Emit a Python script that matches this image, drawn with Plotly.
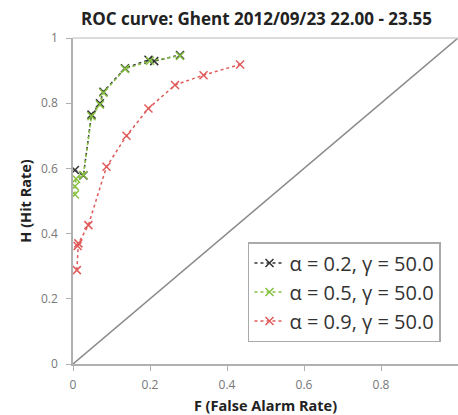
import plotly.graph_objects as go

title = "ROC curve: Ghent 2012/09/23 22.00 - 23.55"
names = ["α = 0.2, γ = 50.0", "α = 0.5, γ = 50.0", "α = 0.9, γ = 50.0"]
colors = ["#333333", "#86c03f", "#e05a5a"]

f_02 = [0.005, 0.027, 0.048, 0.070, 0.079, 0.135, 0.196, 0.211, 0.278]
h_02 = [0.595, 0.578, 0.765, 0.800, 0.835, 0.907, 0.933, 0.929, 0.948]

f_05 = [0.005, 0.005, 0.008, 0.027, 0.048, 0.070, 0.079, 0.135, 0.200, 0.278]
h_05 = [0.520, 0.545, 0.568, 0.580, 0.760, 0.795, 0.832, 0.905, 0.930, 0.945]

f_09 = [0.010, 0.012, 0.014, 0.040, 0.087, 0.139, 0.196, 0.265, 0.339, 0.434]
h_09 = [0.288, 0.362, 0.370, 0.426, 0.605, 0.700, 0.784, 0.856, 0.886, 0.919]

diag = [0, 1]
ticks = [0, 0.2, 0.4, 0.6, 0.8, 1]
tick_text = ["0", "0.2", "0.4", "0.6", "0.8", "1"]

fig = go.Figure()
fig.add_trace(go.Scatter(x=diag, y=diag, mode="lines", line=dict(color="#8a8a8a", width=1.5),
                         showlegend=False, hoverinfo="skip"))
for i, (fx, hy) in enumerate([(f_02, h_02), (f_05, h_05), (f_09, h_09)]):
    fig.add_trace(go.Scatter(
        x=fx, y=hy, mode="lines+markers", name=names[i], legendgroup=f"g{i}",
        line=dict(color=colors[i], width=1.5, dash="dot"),
        marker=dict(symbol="x-thin", size=8, line=dict(color=colors[i], width=1.5), color=colors[i]),
    ))

axis_common = dict(
    range=[0, 1], tickvals=ticks, ticktext=tick_text, showgrid=False, zeroline=False,
    showline=True, linecolor="#b0b0b0", linewidth=1.5, ticks="outside", ticklen=5,
    tickcolor="#b0b0b0", tickfont=dict(family="Open Sans, Liberation Sans, sans-serif", size=12, color="#777777"),
)
fig.update_xaxes(**axis_common, ticklabelstandoff=4,
                 title=dict(text="<b>F (False Alarm Rate)</b>", font=dict(family="Open Sans, sans-serif", size=14.5, color="#222"), standoff=12))
fig.update_yaxes(**axis_common, ticklabelstandoff=6,
                 title=dict(text="<b>H (Hit Rate)</b>", font=dict(family="Open Sans, sans-serif", size=14.5, color="#222"), standoff=6))

fig.add_shape(type="line", xref="paper", yref="paper", x0=0, x1=1, y0=1, y1=1,
              line=dict(color="#d0d0d0", width=1.5))

fig.update_layout(
    width=458, height=415,
    margin=dict(l=73, r=0, t=38, b=51),
    paper_bgcolor="white", plot_bgcolor="white",
    title=dict(text=f"<b>{title}</b>", x=0.56, xanchor="center", y=0.955, yanchor="middle",
               font=dict(family="Open Sans, sans-serif", size=17, color="#222")),
    legend=dict(x=0.4545, y=0.374, xanchor="left", yanchor="top",
                bgcolor="white", bordercolor="#aaaaaa", borderwidth=1.5,
                font=dict(family="Open Sans, Liberation Sans, sans-serif", size=20, color="#333"),
                tracegroupgap=0, itemwidth=30),
)

fig.write_html("out.html")
